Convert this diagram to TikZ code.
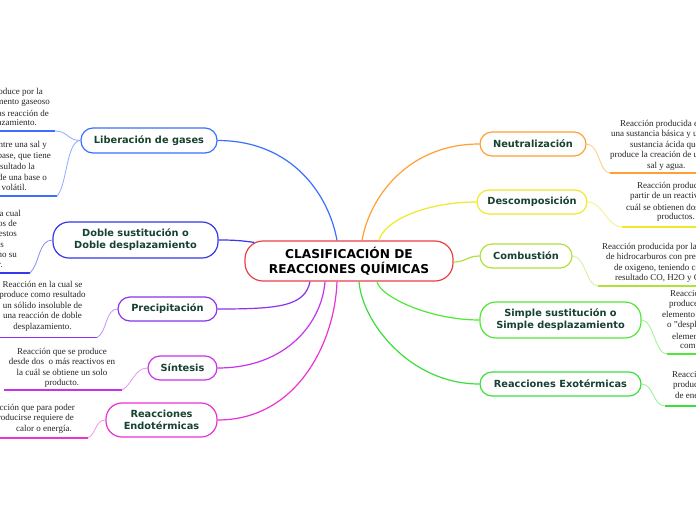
\documentclass[tikz,border=0pt]{standalone}
\usepackage{fontspec}
\setmainfont{Liberation Serif}
\newfontfamily\branchfont{DejaVu Sans}
\definecolor{txtg}{RGB}{22,66,48}
\definecolor{cred}{RGB}{232,64,72}
\definecolor{cLib}{RGB}{60,110,255}
\definecolor{cLibL}{RGB}{140,170,255}
\definecolor{cDob}{RGB}{55,55,235}
\definecolor{cDobL}{RGB}{140,140,245}
\definecolor{cPre}{RGB}{140,50,235}
\definecolor{cPreL}{RGB}{190,150,245}
\definecolor{cSin}{RGB}{200,50,235}
\definecolor{cSinL}{RGB}{230,150,245}
\definecolor{cEnd}{RGB}{235,50,210}
\definecolor{cEndL}{RGB}{245,150,230}
\definecolor{cNeu}{RGB}{255,160,50}
\definecolor{cNeuL}{RGB}{255,200,130}
\definecolor{cDes}{RGB}{240,232,40}
\definecolor{cDesL}{RGB}{245,240,130}
\definecolor{cCom}{RGB}{175,225,60}
\definecolor{cComL}{RGB}{210,240,150}
\definecolor{cSim}{RGB}{80,232,55}
\definecolor{cSimL}{RGB}{160,240,140}
\definecolor{cExo}{RGB}{60,222,60}
\definecolor{cExoL}{RGB}{150,240,150}
\tikzset{
  branch/.style={draw, line width=1.2pt, fill=white, rounded corners=12pt, inner sep=0pt,
    align=center, text=txtg, font=\branchfont\bfseries\fontsize{9.8}{12}\selectfont},
  branchtwo/.style={branch, rounded corners=16pt},
  desc/.style={inner sep=0pt, align=center, text=black!85, font=\fontsize{9}{10.5}\selectfont},
  dl/.style={inner sep=0pt, text=black!85, font=\fontsize{9}{10.5}\selectfont},
  conn/.style={line width=1.2pt},
  subc/.style={line width=0.8pt},
  uline/.style={line width=1.8pt},
}
\begin{document}
\begin{tikzpicture}[x=1pt,y=-1pt]
\useasboundingbox (0,0) rectangle (696,520);
\clip (0,0) rectangle (696,520);
\fill[white] (0,0) rectangle (696,520);

% central node
\node[draw=cred, line width=1.2pt, fill=white, rounded corners=18pt, minimum width=208pt,
  minimum height=40pt, inner sep=0pt, align=center,
  font=\branchfont\bfseries\fontsize{12.2}{15}\selectfont] (cen) at (349,261)
  {CLASIFICACIÓN DE\\REACCIONES QUÍMICAS};

% left branches
\node[branch, draw=cLib, minimum width=136pt, minimum height=25pt] (lib) at (149,140.5) {Liberación de gases};
\node[branchtwo, draw=cDob, minimum width=165pt, minimum height=36pt] (dob) at (135.5,240) {Doble sustitución o\\Doble desplazamiento};
\node[branch, draw=cPre, minimum width=99pt, minimum height=24pt] (pre) at (167.5,309) {Precipitación};
\node[branch, draw=cSin, minimum width=69pt, minimum height=24pt] (sin) at (182.5,368) {Síntesis};
\node[branchtwo, draw=cEnd, minimum width=111pt, minimum height=34pt] (endo) at (161.5,420) {Reacciones\\Endotérmicas};

% right branches
\node[branch, draw=cNeu, minimum width=106pt, minimum height=24pt] (neu) at (533,144) {Neutralización};
\node[branch, draw=cDes, minimum width=110pt, minimum height=24pt] (des) at (532,202) {Descomposición};
\node[branch, draw=cCom, minimum width=92pt, minimum height=24pt] (com) at (526,256) {Combustión};
\node[branchtwo, draw=cSim, minimum width=161pt, minimum height=36pt] (sim) at (560.5,320) {Simple sustitución o\\Simple desplazamiento};
\node[branch, draw=cExo, minimum width=161pt, minimum height=24pt] (exo) at (560.5,384) {Reacciones Exotérmicas};

% main connectors
\draw[conn, cLib] (lib.east) .. controls +(75,0) and +(-8,-45) .. ([xshift=-12pt]cen.north);
\draw[conn, cDob] (dob.east) .. controls +(15,0) and +(-15,-2) .. ([xshift=10pt,yshift=-2pt]cen.north west);
\draw[conn, cPre] (pre.east) .. controls +(60,0) and +(-5,25) .. ([xshift=-39pt]cen.south);
\draw[conn, cSin] (sin.east) .. controls +(70,0) and +(-3,40) .. ([xshift=-24pt]cen.south);
\draw[conn, cEnd] (endo.east) .. controls +(80,0) and +(-2,60) .. ([xshift=-12pt]cen.south);
\draw[conn, cNeu] (neu.west) .. controls +(-70,0) and +(8,-45) .. ([xshift=13pt]cen.north);
\draw[conn, cDes] (des.west) .. controls +(-50,0) and +(5,-20) .. ([xshift=30pt]cen.north);
\draw[conn, cCom] (com.west) .. controls +(-12,0) and +(12,0) .. ([yshift=-1pt]cen.east);
\draw[conn, cSim] (sim.west) .. controls +(-50,0) and +(3,15) .. ([xshift=28pt]cen.south);
\draw[conn, cExo] (exo.west) .. controls +(-70,0) and +(3,40) .. ([xshift=10pt]cen.south);

% ---- Liberación de gases: description 1
\node[dl, anchor=east] (la1) at (43,92) {Reacción que se produce por la};
\node[dl, anchor=east] (la2) at (50,102.5) {formación de un elemento gaseoso};
\node[dl, anchor=east] (la3) at (49,113) {como resultado de las reacción de};
\node[dl, anchor=east] (la4) at (37,123.5) {doble desplazamiento.};
\coordinate (lau) at (55,131);
\coordinate (lau0) at (-5,131);
\draw[uline, cLib] (lau) -- (lau0);
\draw[subc, cLibL] (lib.west) .. controls +(-13,0) and +(13,0) .. (lau);
% description 2
\node[dl, anchor=east] (lb1) at (47,145) {Reacción entre una sal y};
\node[dl, anchor=east] (lb2) at (51,156) {un ácido o una base, que tiene};
\node[dl, anchor=east] (lb3) at (35,166.5) {como resultado la};
\node[dl, anchor=east] (lb4) at (47,177) {formación de una base o};
\node[dl, anchor=east] (lb5) at (27,187.5) {ácido volátil.};
\coordinate (lbu) at (57,196);
\coordinate (lbu0) at (-5,196);
\draw[uline, cLib] (lbu) -- (lbu0);
\draw[subc, cLibL] (lib.west) .. controls +(-14,0) and +(10,-10) .. (lbu);

% ---- Doble sustitución
\node[dl, anchor=east] (da1) at (21,213) {Reacción en la cual};
\node[dl, anchor=east] (da2) at (17,223.5) {los elementos de};
\node[dl, anchor=east] (da3) at (17,234) {dos compuestos};
\node[dl, anchor=east] (da4) at (4,244.5) {se intercambian iones};
\node[dl, anchor=east] (da5) at (17,255) {ocupando cada uno su};
\node[dl, anchor=east] (da6) at (3,265.5) {lugar.};
\coordinate (dau) at (30,273);
\coordinate (dau0) at (-5,273);
\draw[uline, cDob] (dau) -- (dau0);
\draw[subc, cDobL] (dob.west) .. controls +(-14,0) and +(10,-10) .. (dau);

% ---- Precipitación
\node[desc] (pd) at (42.5,306) {Reacción en la cual se\\produce como resultado\\un sólido insoluble de\\una reacción de doble\\desplazamiento.};
\coordinate (pdu) at (97,337.5);
\coordinate (pdu0) at (-5,337.5);
\draw[uline, cPre] (pdu) -- (pdu0);
\draw[subc, cPreL] (pre.west) .. controls +(-12,0) and +(10,-5) .. (pdu);

% ---- Síntesis
\node[desc] (sd) at (62,368) {Reacción que se produce\\desde dos~ o más reactivos en\\la cuál se obtiene un solo\\producto.};
\coordinate (sdu) at (122,390);
\coordinate (sdu0) at (4,390);
\draw[uline, cSin] (sdu) -- (sdu0);
\draw[subc, cSinL] (sin.west) .. controls +(-13,0) and +(10,-5) .. (sdu);

% ---- Endotérmicas
\node[dl, anchor=east] (ea1) at (75,408) {Reacción que para poder};
\node[dl, anchor=east] (ea2) at (74,418.5) {producirse requiere de};
\node[dl, anchor=east] (ea3) at (72,429) {calor o energía.};
\coordinate (eau) at (88,438);
\coordinate (eau0) at (-5,438);
\draw[uline, cEnd] (eau) -- (eau0);
\draw[subc, cEndL] (endo.west) .. controls +(-10,0) and +(8,-4) .. (eau);

% ---- Neutralización
\node[dl, anchor=west] (na1) at (620,124) {Reacción producida entre};
\node[dl, anchor=west] (na2) at (611,134.5) {una sustancia básica y una};
\node[dl, anchor=west] (na3) at (630,145) {sustancia ácida que};
\node[dl, anchor=west] (na4) at (610,155.5) {produce la creación de una};
\node[dl, anchor=west] (na5) at (647,166) {sal y agua.};
\coordinate (nau) at (610,173);
\coordinate (nau1) at (700,173);
\draw[uline, cNeu] (nau) -- (nau1);
\draw[subc, cNeuL] (neu.east) .. controls +(13,0) and +(-11,0) .. (nau);

% ---- Descomposición
\node[dl, anchor=west] (sa1) at (637,186) {Reacción producida a};
\node[dl, anchor=west] (sa2) at (630,196.5) {partir de un reactivo, en la};
\node[dl, anchor=west] (sa3) at (626,207) {cuál se obtienen dos o más};
\node[dl, anchor=west] (sa4) at (657,217.5) {productos.};
\coordinate (sau) at (622,227);
\coordinate (sau1) at (700,227);
\draw[uline, cDes] (sau) -- (sau1);
\draw[subc, cDesL] (des.east) .. controls +(15,0) and +(-15,0) .. (sau);

% ---- Combustión
\node[dl, anchor=west] (ca1) at (602,247) {Reacción producida por la combustión};
\node[dl, anchor=west] (ca2) at (606,257.5) {de hidrocarburos con presencia};
\node[dl, anchor=west] (ca3) at (614,268) {de oxigeno, teniendo como};
\node[dl, anchor=west] (ca4) at (615,278.5) {resultado CO, H2O y CO2.};
\coordinate (cau) at (598,286);
\coordinate (cau1) at (700,286);
\draw[uline, cCom] (cau) -- (cau1);
\draw[subc, cComL] (com.east) .. controls +(13,0) and +(-12,0) .. (cau);

% ---- Simple sustitución
\node[dl, anchor=west] (ma1) at (670,294) {Reacción que se};
\node[dl, anchor=west] (ma2) at (669,304.5) {produce cuando un};
\node[dl, anchor=west] (ma3) at (662,315) {elemento reemplaza};
\node[dl, anchor=west] (ma4) at (667,325.5) {o "desplaza" a otro};
\node[dl, anchor=west] (ma5) at (672,336) {elemento en un};
\node[dl, anchor=west] (ma6) at (680,346.5) {compuesto.};
\coordinate (mau) at (667,354);
\coordinate (mau1) at (700,354);
\draw[uline, cSim] (mau) -- (mau1);
\draw[subc, cSimL] (sim.east) .. controls +(12,0) and +(-12,0) .. (mau);

% ---- Exotérmicas
\node[dl, anchor=west] (xa1) at (672,375) {Reacción que};
\node[dl, anchor=west] (xa2) at (673,385.5) {produce liberación};
\node[dl, anchor=west] (xa3) at (675,396) {de energía.};
\coordinate (xau) at (665,406);
\coordinate (xau1) at (700,406);
\draw[uline, cExo] (xau) -- (xau1);
\draw[subc, cExoL] (exo.east) .. controls +(12,0) and +(-12,0) .. (xau);
\end{tikzpicture}
\end{document}
